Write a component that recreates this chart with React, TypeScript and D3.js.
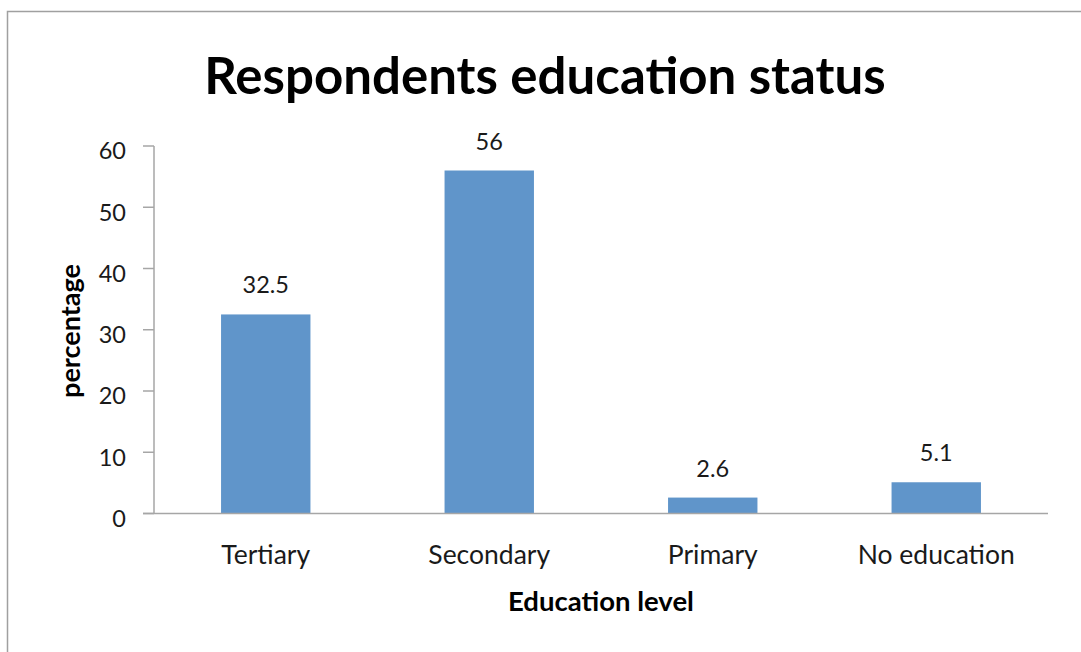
import React from "react";
import * as d3 from "d3";

const categories = ["Tertiary", "Secondary", "Primary", "No education"];
const values = [32.5, 56, 2.6, 5.1];
const yTicks = [0, 10, 20, 30, 40, 50, 60];
const title = "Respondents education status";
const xTitle = "Education level";
const yTitle = "percentage";

const W = 1081;
const H = 652;
const FONT = "Lato, 'Open Sans', sans-serif";

export default function App() {
  const x = d3
    .scaleBand<string>()
    .domain(categories)
    .range([154, 1048])
    .paddingInner(0.6)
    .paddingOuter(0.3);
  const y = d3.scaleLinear().domain([0, 60]).range([513.5, 146]);
  const axisColor = "#a6a6a6";
  const textColor = "#1a1a1a";

  return (
    <svg
      width={W}
      height={H}
      style={{ position: "absolute", left: 0, top: 0, background: "#fff" }}
      fontFamily={FONT}
    >
      <rect x={0} y={0} width={W} height={H} fill="#fff" />
      <path d={`M7.5,${H} V11.5 H${W}`} fill="none" stroke="#a0a0a0" strokeWidth={1.5} />

      <text
        x={545}
        y={94}
        textAnchor="middle"
        fontSize={51}
        fontWeight="bold"
        fill="#000"
      >
        {title}
      </text>

      {/* y axis */}
      <line x1={154} x2={154} y1={y(60)} y2={y(0)} stroke={axisColor} strokeWidth={1.5} />
      {yTicks.map((t) => (
        <g key={t}>
          <line x1={143} x2={154} y1={y(t)} y2={y(t)} stroke={axisColor} strokeWidth={1.5} />
          <text
            x={126}
            y={y(t) + 5}
            dy="0.36em"
            textAnchor="end"
            fontSize={23.5}
            fill={textColor}
          >
            {t}
          </text>
        </g>
      ))}

      {/* bars */}
      {categories.map((c, i) => (
        <g key={c}>
          <rect
            x={x(c)!}
            y={y(values[i])}
            width={x.bandwidth()}
            height={y(0) - y(values[i])}
            fill="#6095ca"
          />
          <text
            x={x(c)! + x.bandwidth() / 2}
            y={y(values[i]) - 21}
            textAnchor="middle"
            fontSize={23.5}
            fill={textColor}
          >
            {d3.format("")(values[i])}
          </text>
          <text
            x={x(c)! + x.bandwidth() / 2}
            y={564}
            textAnchor="middle"
            fontSize={26.5}
            fill={textColor}
          >
            {c}
          </text>
        </g>
      ))}

      {/* x axis */}
      <line x1={143} x2={1048} y1={y(0)} y2={y(0)} stroke={axisColor} strokeWidth={1.5} />

      <text x={601} y={611} textAnchor="middle" fontSize={27.5} fontWeight="bold" fill="#000">
        {xTitle}
      </text>
      <text
        transform={`translate(80,331) rotate(-90)`}
        textAnchor="middle"
        fontSize={27}
        fontWeight="bold"
        fill="#000"
      >
        {yTitle}
      </text>
    </svg>
  );
}
